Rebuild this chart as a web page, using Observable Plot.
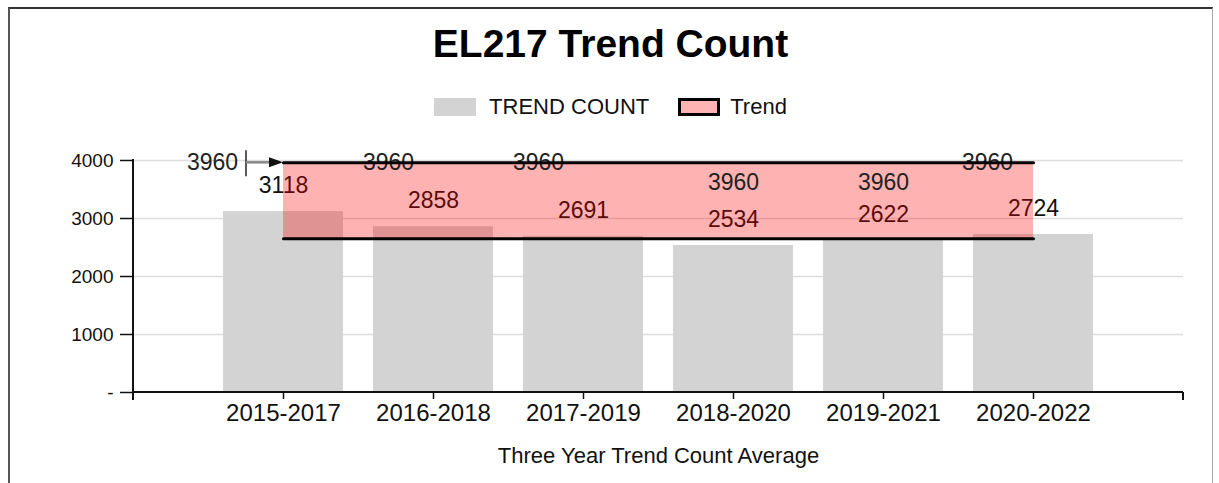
<!DOCTYPE html>
<html>
<head>
<meta charset="utf-8">
<script src="https://cdn.jsdelivr.net/npm/d3@7"></script>
<script src="https://cdn.jsdelivr.net/npm/@observablehq/plot@0.6"></script>
<style>
  body { margin: 0; background: #fff; font-family: "Liberation Sans", Arial, sans-serif; }
  #frame { position: absolute; left: 8px; top: 7px; width: 1205px; height: 476px; box-sizing: border-box;
           border-top: 2px solid #333; border-left: 2px solid #555; border-right: 1px solid #aaa; }
  #title { position: absolute; left: 8px; top: 22px; width: 1205px; text-align: center;
           font-weight: bold; font-size: 39px; line-height: 44px; color: #000; }
  #legend { position: absolute; left: 8px; top: 94px; width: 1205px; display: flex; justify-content: center;
            align-items: center; font-size: 22px; line-height: 26px; color: #111; }
  .sw { width: 42px; height: 18px; box-sizing: border-box; display: inline-block; }
  #chart { position: absolute; left: 0; top: 130px; }
</style>
</head>
<body>
<div id="frame"></div>
<div id="title">EL217 Trend Count</div>
<div id="legend">
  <span class="sw" style="background:#d3d3d3"></span><span style="margin-left:13px">TREND COUNT</span>
  <span class="sw" style="background:#ffb3b3;border:3px solid #000;margin-left:29px"></span><span style="margin-left:10px">Trend</span>
</div>
<div id="chart"></div>
<script>
// ---- data ----
const periods = ["2015-2017", "2016-2018", "2017-2019", "2018-2020", "2019-2021", "2020-2022"];
const trendCount = [3118, 2858, 2691, 2534, 2622, 2724];
const trendUpper = [3960, 3960, 3960, 3960, 3960, 3960];
const trendLower = [2650, 2650, 2650, 2650, 2650, 2650];
const yTicks = [0, 1000, 2000, 3000, 4000];
const xTitle = "Three Year Trend Count Average";

// label layout (style only)
const upperLabelDx = [-71, -45, -45, 0, 0, -46];
const upperLabelDy = [0, 0, 0, 20, 20, 0];

const rows = periods.map((p, i) => ({period: p, count: trendCount[i], upper: trendUpper[i], lower: trendLower[i]}));

function bandCenter(scales, v) {
  const bw = scales.x.bandwidth ? scales.x.bandwidth() : 0;
  return scales.x(v) + bw / 2;
}

function axisLines(index, scales, values, dims) {
  const {width, marginLeft, marginRight} = dims;
  const y0 = scales.y(0), yTop = scales.y(4000);
  const g = d3.create("svg:g").attr("stroke", "#111").attr("fill", "none").attr("stroke-width", 2);
  g.append("line").attr("x1", marginLeft).attr("x2", marginLeft).attr("y1", yTop - 1).attr("y2", y0 + 8);
  g.append("line").attr("x1", marginLeft).attr("x2", width - marginRight).attr("y1", y0).attr("y2", y0);
  g.append("line").attr("x1", width - marginRight).attr("x2", width - marginRight).attr("y1", y0).attr("y2", y0 + 8);
  return g.node();
}

function leader(index, scales, values, dims) {
  const cx = bandCenter(scales, periods[0]);
  const cy = scales.y(trendUpper[0]);
  const g = d3.create("svg:g");
  g.append("line").attr("x1", cx - 37).attr("x2", cx - 37).attr("y1", cy - 12).attr("y2", cy + 14)
    .attr("stroke", "#222").attr("stroke-width", 1.5);
  g.append("line").attr("x1", cx - 37).attr("x2", cx - 12).attr("y1", cy).attr("y2", cy)
    .attr("stroke", "#888").attr("stroke-width", 2.5);
  g.append("path").attr("d", `M${cx - 14},${cy - 5}L${cx},${cy}L${cx - 14},${cy + 5}Z`).attr("fill", "#111");
  return g.node();
}

const upperLabels = rows.map((r, i) =>
  Plot.text([r], {x: "period", y: "upper", text: d => String(d.upper), dx: upperLabelDx[i], dy: upperLabelDy[i],
                  fontSize: 23, fill: "#222"}));

const chart = Plot.plot({
  width: 1219,
  height: 353,
  marginLeft: 133,
  marginRight: 36,
  marginTop: 30,
  marginBottom: 91,
  style: {fontFamily: "'Liberation Sans', Arial, sans-serif", color: "#111", background: "transparent"},
  x: {type: "band", domain: periods, paddingInner: 0.2, paddingOuter: 0.6},
  y: {domain: [0, 4000]},
  marks: [
    Plot.gridY([1000, 2000, 3000, 4000], {stroke: "#ddd", strokeOpacity: 1, strokeWidth: 1.5}),
    Plot.barY(rows, {x: "period", y: "count", fill: "#d3d3d3"}),
    Plot.text(rows, {x: "period", y: "count", text: d => String(d.count), dy: -26, fontSize: 23, fill: "#111"}),
    Plot.areaY(rows, {x: "period", y1: "lower", y2: "upper", fill: "red", fillOpacity: 0.3}),
    ...upperLabels,
    Plot.lineY(rows, {x: "period", y: "upper", stroke: "#000", strokeWidth: 3}),
    Plot.lineY(rows, {x: "period", y: "lower", stroke: "#000", strokeWidth: 3}),
    leader,
    axisLines,
    Plot.axisY(yTicks, {tickSize: 13, tickPadding: 7, fontSize: 19, label: null,
                        tickFormat: d => d === 0 ? "-" : String(d), stroke: "#111", strokeWidth: 1.5}),
    Plot.axisX({tickSize: 7, tickPadding: 4, fontSize: 24, label: null, stroke: "#111", strokeWidth: 1.5}),
    Plot.text([xTitle], {frameAnchor: "bottom", lineAnchor: "middle", dy: 63, fontSize: 22, fill: "#111"})
  ]
});
document.getElementById("chart").appendChild(chart);
</script>
</body>
</html>
